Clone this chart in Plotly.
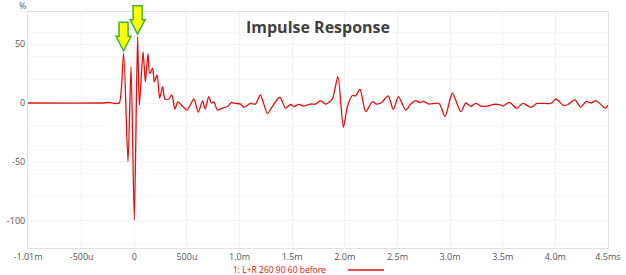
import plotly.graph_objects as go

# ---- data (time in ms, amplitude in %) ----
time_ms = [-1.01, -0.323, -0.228, -0.181, -0.143, -0.102, -0.060, -0.031, 0.0, 0.031,
           0.048, 0.083, 0.105, 0.130, 0.146, 0.174, 0.190, 0.216, 0.241, 0.269,
           0.290, 0.324, 0.357, 0.385, 0.414, 0.457, 0.501, 0.566, 0.607, 0.649,
           0.673, 0.707, 0.733, 0.756, 0.790, 0.837, 0.885, 0.923, 0.961, 1.009,
           1.042, 1.104, 1.151, 1.197, 1.265, 1.310, 1.382, 1.437, 1.484, 1.518,
           1.563, 1.611, 1.675, 1.722, 1.770, 1.817, 1.879, 1.934, 1.986, 2.024,
           2.071, 2.102, 2.144, 2.198, 2.262, 2.303, 2.350, 2.410, 2.461, 2.509,
           2.578, 2.626, 2.674, 2.712, 2.747, 2.800, 2.895, 2.952, 3.021, 3.102,
           3.149, 3.197, 3.244, 3.292, 3.356, 3.403, 3.466, 3.504, 3.563, 3.634,
           3.692, 3.768, 3.825, 3.958, 4.006, 4.077, 4.120, 4.186, 4.239, 4.296,
           4.338, 4.386, 4.477, 4.500]
amplitude_pct = [0.0, 0.0, 0.4, -0.4, 0.0, 42.3, -50.0, 31.0, -99.7, 56.5,
                 -1.7, 43.7, 18.0, 42.0, 25.0, 29.6, 18.0, 24.0, 4.0, 14.0,
                 3.4, 3.2, 6.8, -5.1, 0.9, -2.6, -6.0, 3.4, -7.7, 1.7,
                 -5.1, 5.5, 0.0, 0.9, -6.0, -4.3, -3.0, 0.4, -0.3, -0.9,
                 -3.7, -0.4, -0.9, 6.8, -8.9, -3.2, 4.9, -4.5, -1.3, -3.0,
                 -1.1, -2.6, -0.9, -0.9, 2.1, -0.9, 3.0, 22.4, -20.7, -3.2,
                 6.4, 6.0, 11.7, -7.4, 1.1, -0.9, 0.4, 6.0, -5.4, 5.4,
                 -6.0, -0.9, 2.1, 0.4, 1.3, -0.9, -0.4, -11.5, 8.3, -7.4,
                 0.0, -2.8, -0.4, -2.6, -2.6, -1.3, -1.3, -2.6, 0.6, -4.5,
                 -0.3, -3.7, -0.4, -0.3, 3.4, -2.1, -1.3, 2.7, -3.4, 1.3,
                 0.0, 2.1, -4.5, -1.7]
series_name = "1: L+R 260 90 60 before"
x_tick_vals = [-1.01, -0.5, 0, 0.5, 1.0, 1.5, 2.0, 2.5, 3.0, 3.5, 4.0, 4.5]
x_tick_text = ["-1.01m", "-500u", "0", "500u", "1.0m", "1.5m", "2.0m", "2.5m",
               "3.0m", "3.5m", "4.0m", "4.5ms"]
y_tick_vals = [-100, -50, 0, 50]
y_tick_text = ["-100", "-50", "0", "50"]
arrow_peaks = [(-0.102, 42.3), (0.031, 56.5)]

X_RANGE = [-1.01, 4.5]
Y_RANGE = [-123.5, 77.5]
RED = "#e01010"
FONT = "Open Sans"

fig = go.Figure()
fig.add_trace(go.Scatter(
    x=time_ms, y=amplitude_pct, mode="lines", name=series_name,
    line=dict(color=RED, width=1.3, shape="spline", smoothing=0.7),
    showlegend=False, hoverinfo="skip"))

# block arrows pointing down at the two peaks (paper refs so they are not clipped)
arrow_path = "M 0 2.5 L -7.5 17 L -4.5 17 L -4.5 31 L 4.5 31 L 4.5 17 L 7.5 17 Z"
for px, py in arrow_peaks:
    fig.add_shape(type="path", xref="paper", yref="paper",
                  xsizemode="pixel", ysizemode="pixel",
                  xanchor=(px - X_RANGE[0]) / (X_RANGE[1] - X_RANGE[0]),
                  yanchor=(py - Y_RANGE[0]) / (Y_RANGE[1] - Y_RANGE[0]),
                  path=arrow_path,
                  fillcolor="#ffff00", line=dict(color="#3cb43c", width=1.5))

# legend (text followed by line sample)
fig.add_annotation(xref="paper", yref="paper", x=(231 - 28) / 580, y=-(269.5 - 248) / 236,
                   xanchor="left", yanchor="middle", text=series_name, showarrow=False,
                   font=dict(family=FONT, size=8.5, color=RED))
fig.add_shape(type="line", xref="paper", yref="paper",
              x0=(348 - 28) / 580, x1=(384 - 28) / 580,
              y0=-(270 - 248) / 236, y1=-(270 - 248) / 236,
              line=dict(color=RED, width=1.5))

# axis unit label
fig.add_annotation(xref="paper", yref="paper", x=(22 - 28) / 580, y=(248 - 5) / 236,
                   xanchor="center", yanchor="middle", text="%", showarrow=False,
                   font=dict(family=FONT, size=9, color="#666"))

fig.update_layout(
    width=626, height=275,
    margin=dict(l=28, r=18, t=12, b=27, autoexpand=False),
    paper_bgcolor="white", plot_bgcolor="white",
    title=dict(text="<b>Impulse Response</b>", x=318 / 626, xanchor="center",
               y=1 - 27 / 275, yanchor="middle",
               font=dict(family=FONT, size=16, color="#404040")),
    font=dict(family=FONT, size=9, color="#555"),
)
fig.update_xaxes(range=X_RANGE, tickvals=x_tick_vals, ticktext=x_tick_text,
                 showgrid=True, gridcolor="#f2f2f2", zeroline=False, automargin=False,
                 showline=True, linecolor="#e0e0e0", mirror=True, ticks="",
                 tickfont=dict(size=9, color="#555"))
fig.update_yaxes(range=Y_RANGE, tickvals=y_tick_vals, ticktext=y_tick_text,
                 showgrid=True, gridcolor="#f4f4f4", zeroline=False, automargin=False,
                 showline=True, linecolor="#e0e0e0", mirror=True, ticks="",
                 tickfont=dict(size=9, color="#555"),
                 minor=dict(dtick=20, showgrid=True, gridcolor="#f8f8f8"))

fig.write_html("out.html")
